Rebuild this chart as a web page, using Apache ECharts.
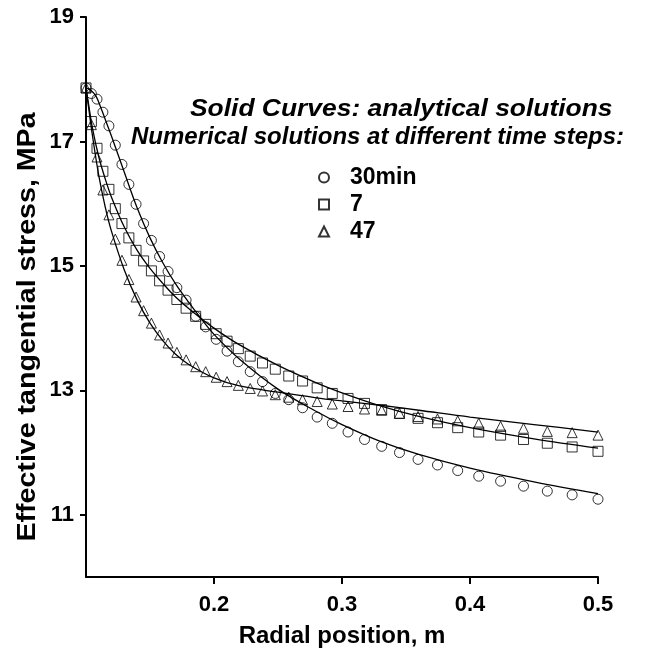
<!DOCTYPE html>
<html>
<head>
<meta charset="utf-8">
<script src="https://cdn.jsdelivr.net/npm/echarts@6/dist/echarts.min.js"></script>
<style>html,body{margin:0;padding:0;background:#fff}#c{width:651px;height:648px}</style>
</head>
<body>
<div id="c"></div>
<script>
// Radial positions of the numerical nodes (m)
const radialPos = [0.1000,0.1042,0.1086,0.1132,0.1179,0.1229,0.1281,0.1335,0.1391,0.1450,
  0.1511,0.1575,0.1641,0.1710,0.1782,0.1857,0.1935,0.2017,0.2102,0.2190,
  0.2283,0.2379,0.2479,0.2584,0.2692,0.2806,0.2924,0.3047,0.3176,0.3310,
  0.3449,0.3594,0.3746,0.3904,0.4068,0.4239,0.4418,0.4604,0.4798,0.5000];
// Numerical solutions (MPa)
const num30min = [17.86,17.77,17.68,17.47,17.25,16.94,16.63,16.31,15.99,15.68,
  15.41,15.15,14.91,14.65,14.45,14.19,14.02,13.82,13.63,13.46,
  13.30,13.14,12.95,12.85,12.72,12.57,12.47,12.33,12.21,12.10,
  12.00,11.89,11.80,11.71,11.62,11.54,11.46,11.38,11.32,11.25];
const num7 = [17.86,17.32,16.89,16.52,16.23,15.92,15.68,15.45,15.25,15.08,
  14.92,14.76,14.61,14.46,14.32,14.19,14.06,13.91,13.79,13.67,
  13.55,13.44,13.34,13.23,13.15,13.04,12.95,12.87,12.79,12.69,
  12.63,12.55,12.48,12.40,12.33,12.28,12.21,12.15,12.09,12.02];
const num47 = [17.86,17.27,16.75,16.22,15.82,15.43,15.09,14.78,14.50,14.28,
  14.08,13.89,13.76,13.61,13.49,13.38,13.30,13.21,13.14,13.08,
  13.03,12.99,12.93,12.89,12.85,12.82,12.78,12.74,12.70,12.68,
  12.63,12.58,12.54,12.51,12.47,12.42,12.39,12.34,12.32,12.28];
// Analytical solutions (solid curves)
const curveX30 = [0.1,0.104,0.108,0.112,0.116,0.12,0.13,0.14,0.15,0.16,0.17,0.18,0.19,0.2,0.22,0.25,0.28,0.3,0.33,0.36,0.4,0.45,0.5];
const curve30min = [17.86,17.82,17.72,17.52,17.30,17.08,16.50,15.93,15.45,15.05,14.71,14.42,14.15,13.90,13.50,13.02,12.66,12.45,12.18,11.97,11.75,11.53,11.34];
const curveX = [0.1,0.102,0.105,0.11,0.115,0.12,0.13,0.14,0.15,0.16,0.17,0.18,0.2,0.22,0.25,0.28,0.3,0.33,0.36,0.4,0.45,0.5];
const curve7 = [17.86,17.60,17.22,16.75,16.40,16.10,15.62,15.25,14.96,14.72,14.50,14.32,14.00,13.73,13.40,13.12,12.96,12.75,12.58,12.40,12.22,12.07];
const curve47 = [17.86,17.55,17.10,16.45,15.95,15.55,14.93,14.45,14.08,13.80,13.58,13.42,13.20,13.07,12.97,12.88,12.83,12.76,12.68,12.57,12.45,12.33];
const seriesNames = ['30min','7','47'];
const xTicks = [0.2,0.3,0.4,0.5];
const yTicks = [11,13,15,17,19];

const FONT = '"Liberation Sans", Arial, sans-serif';
const pair = (xs, ys) => xs.map((x, i) => [x, ys[i]]);
const chart = echarts.init(document.getElementById('c'), null, {renderer: 'canvas'});

const markerStyle = {color: 'transparent', borderColor: '#000', borderWidth: 1};
const lineSeries = (data) => ({
  type: 'line', data, showSymbol: false, symbol: 'none', smooth: 0.35,
  lineStyle: {color: '#000', width: 1.3}, silent: true, z: 2
});
const scatter = (name, symbol, data) => ({
  type: 'scatter', name, symbol, symbolSize: 10, data, itemStyle: markerStyle, z: 3, silent: true
});

chart.setOption({
  animation: false,
  backgroundColor: '#fff',
  grid: {left: 86, right: 53, top: 17, bottom: 71, containLabel: false, outerBoundsMode: 'none'},
  xAxis: {
    type: 'value', min: 0.1, max: 0.5,
    axisLine: {show: true, lineStyle: {color: '#000', width: 2}},
    axisTick: {show: true, length: 7, lineStyle: {color: '#000', width: 2}, customValues: xTicks},
    axisLabel: {customValues: xTicks, margin: 17, color: '#000', fontFamily: FONT, fontWeight: 'bold', fontSize: 22,
      formatter: v => v.toFixed(1)},
    splitLine: {show: false},
    name: 'Radial position, m', nameLocation: 'middle', nameGap: 47,
    nameTextStyle: {color: '#000', fontFamily: FONT, fontWeight: 'bold', fontSize: 24}
  },
  yAxis: {
    type: 'value', min: 10, max: 19,
    axisLine: {show: true, lineStyle: {color: '#000', width: 2}},
    axisTick: {show: true, length: 6, lineStyle: {color: '#000', width: 2}, customValues: yTicks},
    axisLabel: {customValues: yTicks, margin: 12, color: '#000', fontFamily: FONT, fontWeight: 'bold', fontSize: 22},
    splitLine: {show: false}
  },
  legend: {
    data: seriesNames, orient: 'vertical', left: 318, top: 164, padding: 0, itemGap: 0,
    itemWidth: 10, itemHeight: 10,
    textStyle: {color: '#000', fontFamily: FONT, fontWeight: 'bold', fontSize: 23, lineHeight: 27, padding: [0, 0, 0, 16]},
    selectedMode: false
  },
  graphic: [
    {type: 'text', x: 28, y: 327, rotation: Math.PI / 2, scaleX: 1.1,
      style: {text: 'Effective tangential stress, MPa', fill: '#000', font: 'bold 26px ' + FONT, textAlign: 'center', textVerticalAlign: 'middle'}},
    {type: 'text', x: 190, y: 109, scaleX: 1.1,
      style: {text: 'Solid Curves: analytical solutions', fill: '#000', font: 'italic bold 24px ' + FONT, textAlign: 'left', textVerticalAlign: 'middle'}},
    {type: 'text', x: 131, y: 137,
      style: {text: 'Numerical solutions at different time steps:', fill: '#000', font: 'italic bold 24px ' + FONT, textAlign: 'left', textVerticalAlign: 'middle'}}
  ],
  series: [
    lineSeries(pair(curveX30, curve30min)),
    lineSeries(pair(curveX, curve7)),
    lineSeries(pair(curveX, curve47)),
    scatter(seriesNames[0], 'circle', pair(radialPos, num30min)),
    scatter(seriesNames[1], 'rect', pair(radialPos, num7)),
    scatter(seriesNames[2], 'triangle', pair(radialPos, num47))
  ]
});
</script>
</body>
</html>
